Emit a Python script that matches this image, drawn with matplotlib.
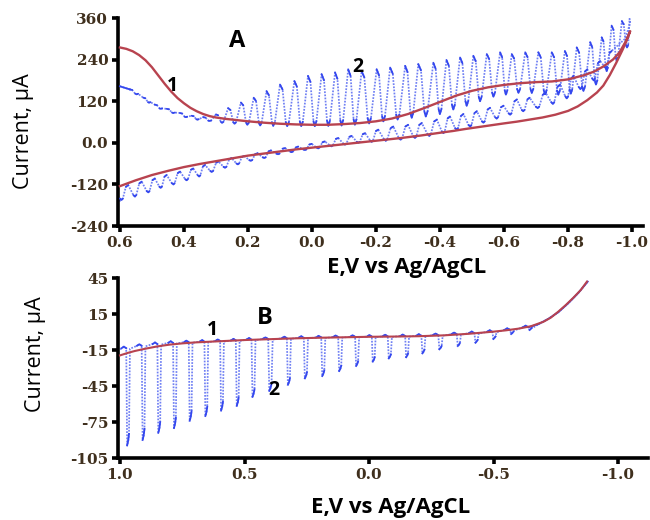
import numpy as np
import matplotlib
matplotlib.use("Agg")
import matplotlib.pyplot as plt

# ---------------- Panel A : curve 1 (red CV loop) ----------------
a1_fwd_E = [0.6, 0.58, 0.56, 0.54, 0.52, 0.50, 0.48, 0.46, 0.44, 0.42, 0.40, 0.38, 0.36, 0.34,
            0.32, 0.30, 0.27, 0.24, 0.2, 0.15, 0.1, 0.05, 0.0, -0.05, -0.1, -0.15, -0.2, -0.25,
            -0.3, -0.35, -0.4, -0.45, -0.5, -0.55, -0.6, -0.65, -0.7, -0.75, -0.8, -0.85,
            -0.88, -0.91, -0.94, -0.96, -0.98, -0.994]
a1_fwd_I = [275, 271, 264, 253, 238, 218, 194, 170, 148, 129, 114, 101, 91, 83,
            77, 73, 69, 66, 62, 58, 55, 53, 52, 52, 54, 57, 62, 70,
            83, 100, 118, 136, 150, 160, 167, 172, 175, 177, 183, 195,
            205, 220, 240, 260, 292, 322]
a1_rev_E = [-0.994, -0.985, -0.97, -0.95, -0.93, -0.91, -0.89, -0.86, -0.83, -0.80, -0.76,
            -0.72, -0.68, -0.64, -0.6, -0.54, -0.48, -0.44, -0.4, -0.34, -0.28, -0.23, -0.17,
            -0.12, -0.06, 0.0, 0.05, 0.1, 0.15, 0.2, 0.25, 0.3, 0.35, 0.4, 0.45, 0.5, 0.55, 0.6]
a1_rev_I = [322, 300, 268, 230, 195, 165, 145, 123, 105, 92, 81,
            73, 67, 61, 56, 48, 40, 34, 29, 21, 14, 9, 3,
            -2, -8, -14, -19, -25, -31, -37, -45, -53, -61, -70, -81, -93, -108, -125]

# ---------------- Panel A : curve 2 (blue pulsed CV) ----------------
a2_up_start = (0.600, 163)
a2_up_E = [0.569, 0.527, 0.491, 0.454, 0.4125, 0.376, 0.34,
           0.30, 0.262, 0.222, 0.182, 0.142,
           0.10, 0.055, 0.0125, -0.03, -0.072, -0.113, -0.155, -0.202,
           -0.244, -0.291, -0.332, -0.379, -0.42, -0.4625, -0.504, -0.546, -0.5875,
           -0.624, -0.666, -0.707, -0.749, -0.79, -0.827, -0.869, -0.905, -0.936, -0.968]
a2_up_top = [154, 130, 110, 98, 86, 78, 74,
             82, 100, 116, 130, 149,
             168, 178, 193, 198, 203, 212, 207, 212,
             217, 222, 227, 231, 239, 246, 251, 256, 261,
             256, 261, 261, 261, 265, 275, 290, 304, 338, 351]
a2_up_bot = [140, 116, 98, 86, 74, 67, 63,
             58, 55, 52, 50, 49,
             48, 48, 48, 49, 50, 52, 56, 62,
             67, 72, 76, 83, 96, 107, 120, 133, 139,
             144, 144, 140, 139, 142, 150, 168, 207, 236, 275]
a2_up_end = (-0.992, 358)

a2_lo_start = [(-0.994, 345), (-0.978, 300)]
a2_lo_E = [0.574, 0.532, 0.491, 0.454, 0.412, 0.371, 0.334, 0.292, 0.251, 0.212,
           0.17, 0.128, 0.084, 0.043, 0.001, -0.04, -0.082, -0.124, -0.166, -0.207,
           -0.254, -0.30, -0.343, -0.39, -0.431, -0.473, -0.515, -0.556, -0.598, -0.64,
           -0.68, -0.73, -0.775, -0.817, -0.86, -0.90, -0.936]
a2_lo_top = [-122, -112, -103, -93, -83, -74, -64, -54, -44, -38,
             -30, -22, -15, -11, -3, 4, 14, 20, 28, 38,
             47, 52, 57, 67, 76, 83, 91, 101, 107, 125,
             130, 144, 168, 193, 212, 236, 265]
a2_lo_bot = [-165, -155, -143, -130, -120, -108, -97, -84, -72, -62,
             -52, -44, -33, -27, -21, -16, -10, -5, 0, 3,
             6, 9, 14, 20, 28, 38, 47, 58, 70, 81,
             91, 100, 112, 128, 155, 180, 215]
a2_lo_end = (0.600, -170)

# ---------------- Panel B ----------------
b1_E = [1.0, 0.97, 0.94, 0.9, 0.85, 0.8, 0.75, 0.7, 0.6, 0.5, 0.4, 0.3, 0.2, 0.1, 0.0,
        -0.1, -0.2, -0.3, -0.4, -0.5, -0.55, -0.6, -0.65, -0.7, -0.73, -0.76, -0.79,
        -0.82, -0.85, -0.875]
b1_I = [-19.5, -17.5, -15.8, -14, -12, -10.5, -9.5, -8.7, -7.7, -6.7, -6, -5.3, -4.8, -4.4, -4,
        -3.8, -3.5, -2.8, -1.5, 0.3, 1.4, 2.8, 4.8, 8.5, 12, 17, 22.5,
        28.5, 35, 42]

b2_start = (1.0, -14.5)
b2_E = [0.975, 0.913, 0.850, 0.787, 0.724, 0.661, 0.598, 0.535, 0.472, 0.405, 0.330, 0.262,
        0.192, 0.124, 0.056, -0.011, -0.075, -0.145, -0.21, -0.278, -0.352, -0.423, -0.495,
        -0.566, -0.640]
b2_top = [-13.5, -11.5, -10, -9, -8.5, -8, -7.5, -7, -6.3, -5.8, -5.2, -4.8,
          -4.5, -4.2, -4, -3.8, -3.6, -3.4, -3.1, -2.6, -1.8, -0.9, 0.2,
          1.8, 4]
b2_bot = [-94.5, -90, -84, -80, -74, -70, -65.5, -61.5, -54, -49, -44, -38.6,
          -36.7, -32.5, -28.3, -24.7, -22, -21, -17.8, -14.4, -11.7, -8.9, -5.8,
          -1.7, 1.7]
b2_tail_E = [-0.68, -0.72, -0.76, -0.80, -0.84, -0.878]
b2_tail_I = [6.5, 11, 16.5, 24, 32.5, 42]

A_xticks = [0.6, 0.4, 0.2, 0.0, -0.2, -0.4, -0.6, -0.8, -1.0]
A_xticklabels = ["0.6", "0.4", "0.2", "0.0", "-0.2", "-0.4", "-0.6", "-0.8", "-1.0"]
A_yticks = [-240, -120, 0, 120, 240, 360]
A_yticklabels = ["-240", "-120", "0.0", "120", "240", "360"]
B_xticks = [1.0, 0.5, 0.0, -0.5, -1.0]
B_xticklabels = ["1.0", "0.5", "0.0", "-0.5", "-1.0"]
B_yticks = [-105, -75, -45, -15, 15, 45]
B_yticklabels = ["-105", "-75", "-45", "-15", "15", "45"]

RED = "#b8434f"
BLUE_LIGHT = "#7080f3"
BLUE = "#3447ee"
TICKCOL = "#3f2f1d"


def pulses_up(E, top, bot):
    """Build pulse polyline (pulses rising from a baseline) in sweep order."""
    xs, ys, sx, sy = [], [], [], []
    n = len(E)
    for k in range(n):
        step = E[k + 1] - E[k] if k < n - 1 else E[k] - E[k - 1]
        amp = top[k] - bot[k]
        e = E[k]
        pts = [(e, top[k]),
               (e + 0.18 * step, top[k] - 0.12 * amp),
               (e + 0.40 * step, bot[k] + 0.10 * amp),
               (e + 0.50 * step, bot[k]),
               (e + 0.62 * step, bot[k] + 0.10 * amp)]
        xs += [p[0] for p in pts]
        ys += [p[1] for p in pts]
        sx += [pts[0][0], pts[1][0], np.nan, pts[2][0], pts[3][0], pts[4][0], np.nan]
        sy += [pts[0][1], pts[1][1], np.nan, pts[2][1], pts[3][1], pts[4][1], np.nan]
    return xs, ys, sx, sy


def pulses_down(E, top, bot):
    xs, ys, sx, sy = [], [], [], []
    n = len(E)
    for k in range(n):
        step = E[k + 1] - E[k] if k < n - 1 else E[k] - E[k - 1]
        amp = top[k] - bot[k]
        e = E[k]
        pts = [(e - 0.30 * step, top[k]),
               (e - 0.15 * step, top[k] + 1.3),
               (e, top[k]),
               (e + 0.06 * step, bot[k]),
               (e + 0.13 * step, bot[k] + 0.04 * amp + 0.8),
               (e + 0.18 * step, bot[k] + 0.10 * amp + 1.5),
               (e + 0.24 * step, top[k] - 0.5)]
        xs += [p[0] for p in pts]
        ys += [p[1] for p in pts]
        sx += [pts[0][0], pts[1][0], pts[2][0], np.nan, pts[3][0], pts[4][0], pts[5][0], np.nan]
        sy += [pts[0][1], pts[1][1], pts[2][1], np.nan, pts[3][1], pts[4][1], pts[5][1], np.nan]
    return xs, ys, sx, sy


def style_axes(ax, xticks, xlabels, yticks, ylabels):
    for s in ("top", "right"):
        ax.spines[s].set_visible(False)
    for s in ("left", "bottom"):
        ax.spines[s].set_linewidth(2.6)
        ax.spines[s].set_color("black")
    ax.set_xticks(xticks)
    ax.set_xticklabels(xlabels)
    ax.set_yticks(yticks)
    ax.set_yticklabels(ylabels)
    ax.tick_params(axis="both", direction="out", length=4, width=2.6, color="black",
                   pad=3, labelcolor=TICKCOL)
    for lab in ax.get_xticklabels() + ax.get_yticklabels():
        lab.set_fontfamily("DejaVu Serif")
        lab.set_fontweight("bold")
        lab.set_fontsize(11)


fig = plt.figure(figsize=(6.5, 5.2), dpi=100)

# ---------------- Panel A ----------------
axA = fig.add_axes([118 / 650, 1 - 226 / 520, 525 / 650, 208 / 520])
axA.set_xlim(0.606, -1.034)
axA.set_ylim(-240, 360)

ux, uy, usx, usy = pulses_up(a2_up_E, a2_up_top, a2_up_bot)
ux = [a2_up_start[0]] + ux + [a2_up_end[0]]
uy = [a2_up_start[1]] + uy + [a2_up_end[1]]
loE = a2_lo_E[::-1]
loT = a2_lo_top[::-1]
loB = a2_lo_bot[::-1]
lx, ly, lsx, lsy = pulses_up(loE, loT, loB)
lx = [p[0] for p in a2_lo_start] + lx + [a2_lo_end[0]]
ly = [p[1] for p in a2_lo_start] + ly + [a2_lo_end[1]]
axA.plot(ux + lx, uy + ly, color=BLUE_LIGHT, lw=1.25, ls=(0, (1.0, 0.8)), zorder=2)
axA.plot(usx + lsx, usy + lsy, color=BLUE, lw=1.3, zorder=3, solid_capstyle="round")
axA.plot([a2_up_start[0], a2_up_E[0]], [a2_up_start[1], a2_up_top[0]], color=BLUE, lw=1.3, zorder=3)

axA.plot(a1_fwd_E + a1_rev_E, a1_fwd_I + a1_rev_I, color=RED, lw=1.7, zorder=4,
         solid_joinstyle="round")

style_axes(axA, A_xticks, A_xticklabels, A_yticks, A_yticklabels)

axA.text(0.234, 293, "A", fontsize=17, fontweight="bold", family="Open Sans",
         ha="center", va="center")
axA.text(0.4375, 163, "1", fontsize=14, fontweight="bold", family="Open Sans",
         ha="center", va="center")
axA.text(-0.144, 220, "2", fontsize=14, fontweight="bold", family="Open Sans",
         ha="center", va="center")

# ---------------- Panel B ----------------
axB = fig.add_axes([118 / 650, 1 - 458 / 520, 530 / 650, 180 / 520])
axB.set_xlim(1.008, -1.12)
axB.set_ylim(-105, 45)

bx, by, bsx, bsy = pulses_down(b2_E, b2_top, b2_bot)
bx = [b2_start[0]] + bx + b2_tail_E
by = [b2_start[1]] + by + b2_tail_I
axB.plot(bx, by, color=BLUE_LIGHT, lw=1.25, ls=(0, (1.0, 0.8)), zorder=2)
axB.plot(bsx, bsy, color=BLUE, lw=1.3, zorder=3)
axB.plot([b2_E[-1]] + b2_tail_E, [b2_top[-1]] + b2_tail_I, color=BLUE, lw=1.3, zorder=3)
axB.plot(b1_E, b1_I, color=RED, lw=1.5, zorder=4, solid_joinstyle="round")

style_axes(axB, B_xticks, B_xticklabels, B_yticks, B_yticklabels)

axB.text(0.418, 12, "B", fontsize=17, fontweight="bold", family="Open Sans",
         ha="center", va="center")
axB.text(0.627, 2, "1", fontsize=14, fontweight="bold", family="Open Sans",
         ha="center", va="center")
axB.text(0.384, -48, "2", fontsize=14, fontweight="bold", family="Open Sans",
         ha="center", va="center")

# axis labels
fig.text(24 / 650, 1 - 131 / 520, "Current, μA", rotation=90, fontsize=15.5,
         family="Open Sans", ha="center", va="center")
fig.text(35 / 650, 1 - 354 / 520, "Current, μA", rotation=90, fontsize=15.5,
         family="Open Sans", ha="center", va="center")
fig.text(407 / 650, 1 - 268 / 520, "E,V vs Ag/AgCL", fontsize=16, fontweight="bold",
         family="Open Sans", ha="center", va="center")
fig.text(391 / 650, 1 - 508 / 520, "E,V vs Ag/AgCL", fontsize=16, fontweight="bold",
         family="Open Sans", ha="center", va="center")

fig.savefig("out.png", dpi=100)
